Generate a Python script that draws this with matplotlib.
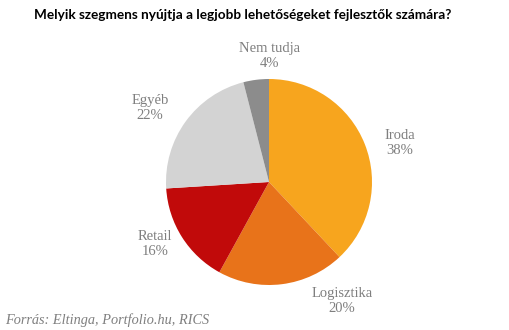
import matplotlib
matplotlib.use("Agg")
import matplotlib.pyplot as plt

title = "Melyik szegmens nyújtja a legjobb lehetőségeket fejlesztők számára?"
categories = ["Iroda", "Logisztika", "Retail", "Egyéb", "Nem tudja"]
values = [38, 20, 16, 22, 4]
colors = ["#F7A51E", "#E8731A", "#C10A0A", "#D3D3D3", "#8C8C8C"]
source = "Forrás: Eltinga, Portfolio.hu, RICS"

# label anchor positions in pixel coords (x from left, y from top)
label_pos = [(400, 143), (342, 301), (155, 244), (150, 108), (270, 56)]

W, H = 510, 330
fig = plt.figure(figsize=(W / 100, H / 100), dpi=100)
ax = fig.add_axes([0, 0, 1, 1])

cx, cy, r = 269, H - 182, 103
ax.pie(values, colors=colors, startangle=90, counterclock=False,
       center=(cx, cy), radius=r, frame=True,
       wedgeprops=dict(edgecolor="none", linewidth=0))
ax.set_xlim(0, W)
ax.set_ylim(0, H)
ax.set_aspect("equal")
ax.axis("off")

for cat, v, (x, y) in zip(categories, values, label_pos):
    ax.text(x, H - y, f"{cat}\n{v}%", ha="center", va="center",
            fontsize=10.5, family="Liberation Serif", color="#7F7F7F",
            linespacing=1.25)

fig.text(243 / W, 1 - 15 / H, title, ha="center", va="center",
         fontsize=9.8, fontweight="bold", family="Lato", color="#000000")
fig.text(5 / W, 1 - 320 / H, source, ha="left", va="center",
         fontsize=10.3, style="italic", family="Liberation Serif", color="#7F7F7F")

fig.savefig("out.png", dpi=100)
